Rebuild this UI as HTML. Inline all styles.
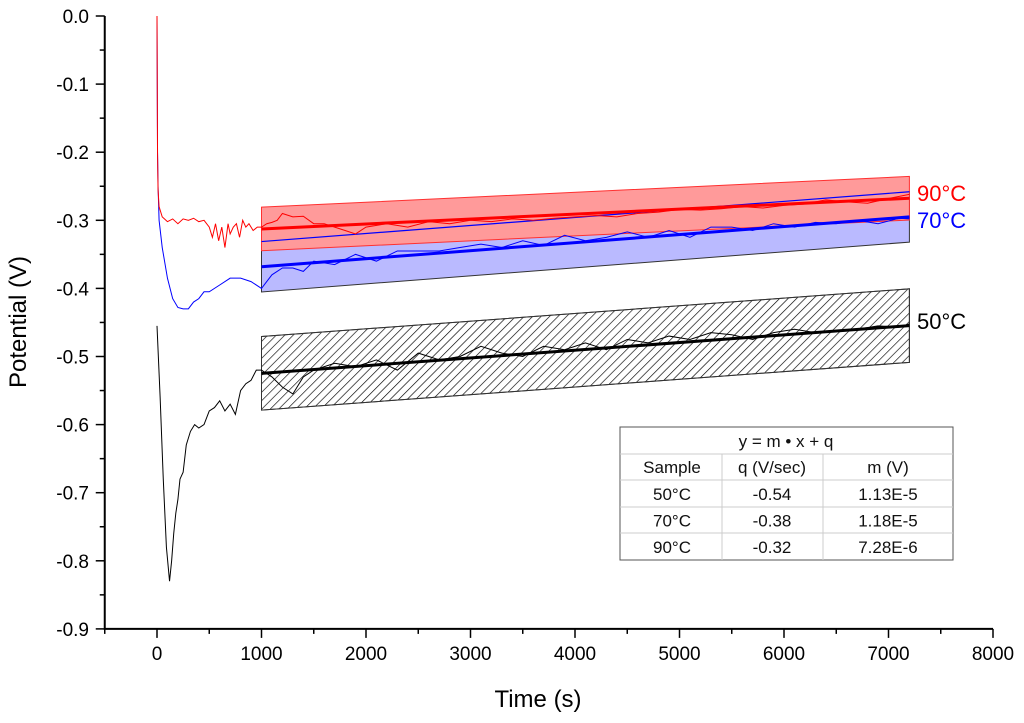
<!DOCTYPE html>
<html><head><meta charset="utf-8"><style>
html,body{margin:0;padding:0;background:#fff;}
svg{display:block;font-family:"Liberation Sans",Arial,sans-serif;}
</style></head><body>
<svg id="chart" width="1024" height="723" viewBox="0 0 1024 723">
<defs>
<pattern id="hatch" patternUnits="userSpaceOnUse" width="6" height="6" patternTransform="rotate(45)">
<line x1="0" y1="0" x2="0" y2="6" stroke="#000" stroke-width="1.3"/>
</pattern>
</defs>
<g id="bands"></g>
<g id="series"></g>
<g id="axes"></g>
</svg>
<script>
const xTicks=[0,1000,2000,3000,4000,5000,6000,7000,8000];
const yTicks=[0,-0.1,-0.2,-0.3,-0.4,-0.5,-0.6,-0.7,-0.8,-0.9];
const samples=["50°C","70°C","90°C"];
const qVals=[-0.536,-0.38,-0.32];
const mVals=[1.13e-5,1.18e-5,7.28e-6];
const bandHalf=[0.054,0.037,0.032];
const fitStart=1000, fitEnd=7200;
const t90=[0,5,10,20,50,100,150,200,250,300,350,400,450,500,530,560,590,620,650,680,700,730,760,790,820,850,880,920,960,1000,1050,1100,1150,1200,1300,1400,1500,1600,1700,1800,1900,2000,2200,2400,2600,2800,3000,3200,3400,3600,3800,4000,4200,4400,4600,4800,5000,5200,5400,5600,5800,6000,6200,6400,6600,6800,7000,7200];
const v90=[0,-0.2,-0.255,-0.28,-0.295,-0.302,-0.298,-0.305,-0.298,-0.3,-0.297,-0.302,-0.3,-0.31,-0.325,-0.305,-0.33,-0.31,-0.34,-0.305,-0.32,-0.31,-0.305,-0.325,-0.3,-0.31,-0.305,-0.315,-0.31,-0.31,-0.305,-0.303,-0.3,-0.29,-0.295,-0.294,-0.305,-0.305,-0.31,-0.315,-0.32,-0.31,-0.305,-0.31,-0.302,-0.305,-0.3,-0.302,-0.298,-0.3,-0.297,-0.295,-0.293,-0.295,-0.29,-0.288,-0.284,-0.285,-0.283,-0.28,-0.282,-0.278,-0.276,-0.27,-0.273,-0.275,-0.268,-0.262];
const t70=[0,5,10,20,50,100,150,200,250,300,350,400,450,500,600,700,800,900,1000,1050,1100,1200,1300,1400,1500,1700,1900,2100,2300,2500,2700,2900,3100,3300,3500,3700,3900,4100,4300,4500,4700,4900,5100,5300,5500,5700,5900,6100,6300,6500,6700,6900,7100,7200];
const v70=[0,-0.2,-0.25,-0.3,-0.34,-0.385,-0.415,-0.428,-0.43,-0.43,-0.42,-0.415,-0.405,-0.405,-0.395,-0.385,-0.385,-0.39,-0.4,-0.39,-0.38,-0.37,-0.37,-0.375,-0.36,-0.365,-0.35,-0.36,-0.345,-0.345,-0.345,-0.34,-0.335,-0.34,-0.33,-0.337,-0.322,-0.33,-0.325,-0.317,-0.325,-0.315,-0.325,-0.31,-0.31,-0.315,-0.305,-0.31,-0.303,-0.305,-0.3,-0.305,-0.297,-0.298];
const t50=[0,30,60,90,120,140,160,180,200,220,250,280,320,360,400,450,500,550,600,650,700,750,800,850,900,950,1000,1100,1200,1300,1400,1500,1700,1900,2100,2300,2500,2700,2900,3100,3300,3500,3700,3900,4100,4300,4500,4700,4900,5100,5300,5500,5700,5900,6100,6300,6500,6700,6900,7100,7200];
const v50=[-0.455,-0.56,-0.68,-0.78,-0.83,-0.8,-0.76,-0.73,-0.71,-0.68,-0.67,-0.63,-0.61,-0.6,-0.605,-0.6,-0.58,-0.575,-0.565,-0.58,-0.57,-0.585,-0.55,-0.54,-0.535,-0.52,-0.52,-0.53,-0.545,-0.555,-0.53,-0.52,-0.51,-0.515,-0.505,-0.52,-0.495,-0.505,-0.5,-0.485,-0.495,-0.5,-0.485,-0.49,-0.48,-0.49,-0.475,-0.48,-0.47,-0.475,-0.465,-0.468,-0.475,-0.465,-0.46,-0.465,-0.462,-0.46,-0.455,-0.457,-0.452];
const X=v=>157+(v)*836/8000;
const Y=v=>16-(v)*681;
const NS="http://www.w3.org/2000/svg";
function mk(tag,attrs,parent){const e=document.createElementNS(NS,tag);for(const k in attrs)e.setAttribute(k,attrs[k]);parent.appendChild(e);return e;}
const bands=document.getElementById('bands'),series=document.getElementById('series'),axes=document.getElementById('axes');
const fills=["#fff","#babaff","#ff9a9a"];
const edge=["#333","#333","#ff3030"];
const names=["band-50c","band-70c","band-90c"];
for(const i of [0,1,2]){
 const f=x=>qVals[i]+mVals[i]*x;
 const pts=[[fitStart,f(fitStart)+bandHalf[i]],[fitEnd,f(fitEnd)+bandHalf[i]],[fitEnd,f(fitEnd)-bandHalf[i]],[fitStart,f(fitStart)-bandHalf[i]]];
 const p=mk('polygon',{points:pts.map(d=>X(d[0])+','+Y(d[1])).join(' '),fill:fills[i],stroke:edge[i],'stroke-width':1},bands);
 
 
 if(i===0){const h=mk('polygon',{points:p.getAttribute('points'),fill:'url(#hatch)',stroke:'#333','stroke-width':1},bands);
 
 }
}
{const i=1;const f=x=>qVals[i]+mVals[i]*x;
 const l=mk('line',{x1:X(fitStart),y1:Y(f(fitStart)+bandHalf[i]),x2:X(fitEnd),y2:Y(f(fitEnd)+bandHalf[i]),stroke:'#0000ff','stroke-width':1.2},bands);
 
 }
const sets=[[t50,v50,'#000','series-50c'],[t70,v70,'#0000ff','series-70c'],[t90,v90,'#ff0000','series-90c']];
for(const s of sets){
 const pl=mk('polyline',{points:s[0].map((t,j)=>X(t)+','+Y(s[1][j])).join(' '),fill:'none',stroke:s[2],'stroke-width':1},series);
 
 
}
const fitCol=['#000','#0000ff','#ff0000'];
for(const i of [0,1,2]){
 const f=x=>qVals[i]+mVals[i]*x;
 const l=mk('line',{x1:X(fitStart),y1:Y(f(fitStart)),x2:X(fitEnd),y2:Y(f(fitEnd)),stroke:fitCol[i],'stroke-width':3},series);
 
 
}
const lbl=[['90°C',193,'#ff0000'],['70°C',220,'#0000ff'],['50°C',321,'#000']];
for(const L of lbl){const t=mk('text',{x:917,y:L[1]+8,'font-size':22,fill:L[2]},series);t.textContent=L[0];
 
 }
const ax=mk('path',{d:`M${X(-500)},${Y(0)} V${Y(-0.9)} H${X(8000)}`,fill:'none',stroke:'#000','stroke-width':2},axes);


for(let v=-500;v<=8000;v+=500){const maj=v%1000===0;mk('line',{x1:X(v),x2:X(v),y1:Y(-0.9),y2:Y(-0.9)+(maj?9:5),stroke:'#000','stroke-width':1.5},axes);}
for(const v of xTicks){const t=mk('text',{x:X(v),y:660,'font-size':19,'text-anchor':'middle'},axes);t.textContent=String(v);
 
 }
for(let k=0;k<=18;k++){const v=-k*0.05;const maj=k%2===0;mk('line',{x1:X(-500),x2:X(-500)-(maj?9:5),y1:Y(v),y2:Y(v),stroke:'#000','stroke-width':1.5},axes);}
for(const v of yTicks){const t=mk('text',{x:89,y:Y(v)+7,'font-size':19,'text-anchor':'end'},axes);t.textContent=v.toFixed(1);
 
 }
const xt=mk('text',{x:538,y:707,'font-size':24,'text-anchor':'middle'},axes);xt.textContent='Time (s)';


const yt=mk('text',{x:0,y:0,'font-size':24,'text-anchor':'middle',transform:'translate(26,322) rotate(-90)'},axes);yt.textContent='Potential (V)';


const tb=mk('g',{},axes);


mk('rect',{x:620,y:427,width:333,height:133,fill:'#fff',stroke:'#555','stroke-width':1},tb);
const rows=[454,480,507,533];
for(const r of rows)mk('line',{x1:620,x2:953,y1:r,y2:r,stroke:'#ccc'},tb);
for(const c of [722,823])mk('line',{x1:c,x2:c,y1:454,y2:560,stroke:'#ccc'},tb);
const cell=(txt,x,y)=>{const t=mk('text',{x:x,y:y,'font-size':17,'text-anchor':'middle',fill:'#111'},tb);t.textContent=txt;return t;};
cell('y = m • x + q',786,447);
cell('Sample',672,473);cell('q  (V/sec)',772,473);cell('m (V)',888,473);
const qTxt=['-0.54','-0.38','-0.32'],mTxt=['1.13E-5','1.18E-5','7.28E-6'];
for(let i=0;i<3;i++){const y=500+i*26.5;cell(samples[i],672,y);cell(qTxt[i],772,y);cell(mTxt[i],888,y);}
</script>
</body></html>
